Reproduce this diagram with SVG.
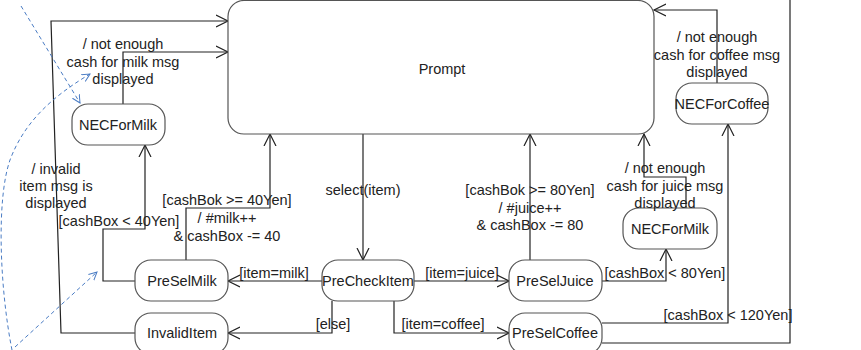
<svg xmlns="http://www.w3.org/2000/svg" width="861" height="350" viewBox="0 0 861 350">
<style>
.n{fill:#fff;stroke:#555;stroke-width:1.2}
.t{font-family:"Liberation Sans",Arial,sans-serif;font-size:14.5px;fill:#222;text-anchor:middle;dominant-baseline:central}
.c{fill:none;stroke:#222;stroke-width:1.2;marker-end:url(#a)}
.d{fill:none;stroke:#4a7cc4;stroke-width:1;stroke-dasharray:4,3;marker-end:url(#b)}
</style>
<defs>
<marker id="a" markerUnits="userSpaceOnUse" markerWidth="14" markerHeight="14" refX="12" refY="7" orient="auto"><path d="M0,1 L12,7 L0,13" fill="none" stroke="#222" stroke-width="1.2"/></marker>
<marker id="b" markerUnits="userSpaceOnUse" markerWidth="10" markerHeight="10" refX="8" refY="5" orient="auto"><path d="M0,1 L8,5 L0,9" fill="none" stroke="#4a7cc4" stroke-width="1"/></marker>
</defs>
<g id="connectors">
<polyline class="c" points="135,333 61,333 51,21 228,21"/>
<polyline class="c" points="123,104 123,52 228,52"/>
<polyline class="c" points="135,281 103,281 103,229 145,229 145,145"/>
<polyline class="c" points="186,260 186,208 270,208 270,134"/>
<polyline class="c" points="363,134 363,260"/>
<polyline class="c" points="322,281 228,281"/>
<polyline class="c" points="414,281 509,281"/>
<polyline class="c" points="332,301 332,333 228,333"/>
<polyline class="c" points="394,301 394,333 509,333"/>
<polyline class="c" points="530,260 530,134"/>
<polyline class="c" points="602,281 666,281 666,249"/>
<polyline class="c" points="686,208 686,177 644,177 644,134"/>
<polyline class="c" points="602,323 728,323 728,124"/>
<polyline class="c" points="717,83 717,10 654,10"/>
<polyline fill="none" stroke="#222" stroke-width="1.2" points="602,343 790,343 790,-5"/>
<line class="d" x1="21" y1="6" x2="80" y2="103"/>
<path class="d" d="M12,350 C0,290 -4,200 10,160 C25,120 55,95 90,74"/>
<line class="d" x1="15" y1="347" x2="97" y2="272"/>
</g>
<g id="Prompt"><rect class="n" x="228" y="0.5" width="426" height="133.5" rx="16"/><text class="t" x="442" y="69">Prompt</text></g>
<g id="NECForMilk1"><rect class="n" x="72" y="104" width="93" height="41" rx="16"/><text class="t" x="118" y="125">NECForMilk</text></g>
<g id="PreSelMilk"><rect class="n" x="135" y="260" width="93" height="41" rx="16"/><text class="t" x="182" y="281">PreSelMilk</text></g>
<g id="InvalidItem"><rect class="n" x="135" y="313" width="93" height="41" rx="16"/><text class="t" x="182" y="333">InvalidItem</text></g>
<g id="PreCheckItem"><rect class="n" x="322" y="260" width="92" height="41" rx="16"/><text class="t" x="368" y="281">PreCheckItem</text></g>
<g id="PreSelJuice"><rect class="n" x="509" y="260" width="93" height="41" rx="16"/><text class="t" x="555" y="281">PreSelJuice</text></g>
<g id="PreSelCoffee"><rect class="n" x="509" y="313" width="93" height="41" rx="16"/><text class="t" x="555" y="333">PreSelCoffee</text></g>
<g id="NECForMilk2"><rect class="n" x="623" y="208" width="94" height="41" rx="16"/><text class="t" x="670" y="229">NECForMilk</text></g>
<g id="NECForCoffee"><rect class="n" x="676" y="83" width="92" height="41" rx="16"/><text class="t" x="722" y="104">NECForCoffee</text></g>
<g id="labels">
<text class="t" x="123" y="44">/ not enough</text>
<text class="t" x="123" y="62">cash for milk msg</text>
<text class="t" x="123" y="79">displayed</text>
<text class="t" x="56" y="169">/ invalid</text>
<text class="t" x="56" y="186">item msg is</text>
<text class="t" x="56" y="203">displayed</text>
<text class="t" x="119" y="221">[cashBox &lt; 40Yen]</text>
<text class="t" x="227" y="200">[cashBok &gt;= 40Yen]</text>
<text class="t" x="227" y="218">/ #milk++</text>
<text class="t" x="227" y="236">&amp; cashBox -= 40</text>
<text class="t" x="363" y="190">select(item)</text>
<text class="t" x="530" y="190">[cashBok &gt;= 80Yen]</text>
<text class="t" x="530" y="208">/ #juice++</text>
<text class="t" x="530" y="225">&amp; cashBox -= 80</text>
<text class="t" x="274" y="273">[item=milk]</text>
<text class="t" x="462" y="273">[item=juice]</text>
<text class="t" x="333" y="324">[else]</text>
<text class="t" x="443" y="324">[item=coffee]</text>
<text class="t" x="665" y="273">[cashBox &lt; 80Yen]</text>
<text class="t" x="728" y="315">[cashBox &lt; 120Yen]</text>
<text class="t" x="665" y="168">/ not enough</text>
<text class="t" x="665" y="186">cash for juice msg</text>
<text class="t" x="665" y="203">displayed</text>
<text class="t" x="717" y="37">/ not enough</text>
<text class="t" x="717" y="55">cash for coffee msg</text>
<text class="t" x="717" y="72">displayed</text>
</g>
</svg>
